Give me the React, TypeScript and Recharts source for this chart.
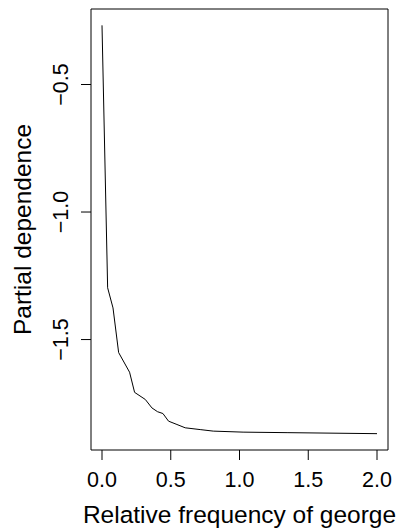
import React from 'react';
import { LineChart, Line, XAxis, YAxis, ReferenceArea, Label } from 'recharts';

const georgeFreq = [0, 0.041, 0.08, 0.121, 0.2005, 0.237, 0.315, 0.363, 0.404, 0.443, 0.484, 0.545, 0.605, 0.714, 0.809, 1.026, 1.346, 2.0];
const partialDep = [-0.268, -1.297, -1.376, -1.551, -1.628, -1.707, -1.735, -1.768, -1.783, -1.79, -1.82, -1.833, -1.846, -1.853, -1.859, -1.863, -1.865, -1.869];
const xTicks = [0, 0.5, 1.0, 1.5, 2.0];
const yTicks = [-1.5, -1.0, -0.5];
const xTitle = 'Relative frequency of george';
const yTitle = 'Partial dependence';

const data = georgeFreq.map((x, i) => ({ x, y: partialDep[i] }));

const pad = (lo: number, hi: number): [number, number] => {
  const r = (hi - lo) * 0.04;
  return [lo - r, hi + r];
};
const xDomain = pad(Math.min(...georgeFreq), Math.max(...georgeFreq));
const yDomain = pad(Math.min(...partialDep), Math.max(...partialDep));

const FONT = '"Liberation Sans", Arial, Helvetica, sans-serif';

const fmt = (v: number) => {
  const s = v.toFixed(1);
  return s.startsWith('-') ? '\u2212' + s.slice(1) : s;
};

const XTick = (props: any) => {
  const { x, y, payload } = props;
  return (
    <text x={x} y={y + 25} textAnchor="middle" fontFamily={FONT} fontSize={21.5} fill="#000">
      {fmt(payload.value)}
    </text>
  );
};

const YTick = (props: any) => {
  const { x, y, payload } = props;
  const bx = x - 11;
  return (
    <text x={bx} y={y} transform={`rotate(-90, ${bx}, ${y})`} textAnchor="middle" fontFamily={FONT} fontSize={21.5} fill="#000">
      {fmt(payload.value)}
    </text>
  );
};

export default function App() {
  return (
    <div style={{ position: 'absolute', left: 0, top: 0, width: 403, height: 530, background: '#fff' }}>
      <LineChart width={403} height={530} data={data} margin={{ top: 9, right: 15, bottom: 0, left: 0 }}>
        <XAxis
          dataKey="x"
          type="number"
          domain={xDomain}
          ticks={xTicks}
          allowDataOverflow
          axisLine={false}
          tickLine={{ stroke: '#000', strokeWidth: 1 }}
          tickSize={10}
          height={80}
          tick={<XTick />}
          interval={0}
        >
          <Label
            content={() => (
              <text x={239.5} y={523} textAnchor="middle" fontFamily={FONT} fontSize={24.5} fill="#000">
                {xTitle}
              </text>
            )}
          />
        </XAxis>
        <YAxis
          dataKey="y"
          type="number"
          domain={yDomain}
          ticks={yTicks}
          allowDataOverflow
          axisLine={false}
          tickLine={{ stroke: '#000', strokeWidth: 1 }}
          tickSize={10}
          width={91}
          tick={<YTick />}
          interval={0}
        >
          <Label
            content={() => (
              <text x={31} y={229.5} transform="rotate(-90, 31, 229.5)" textAnchor="middle" fontFamily={FONT} fontSize={24.5} fill="#000">
                {yTitle}
              </text>
            )}
          />
        </YAxis>
        <ReferenceArea
          x1={xDomain[0]}
          x2={xDomain[1]}
          y1={yDomain[0]}
          y2={yDomain[1]}
          fill="none"
          stroke="#000"
          strokeWidth={1}
          ifOverflow="visible"
        />
        <Line
          type="linear"
          dataKey="y"
          stroke="#000"
          strokeWidth={1}
          dot={false}
          isAnimationActive={false}
        />
      </LineChart>
    </div>
  );
}
